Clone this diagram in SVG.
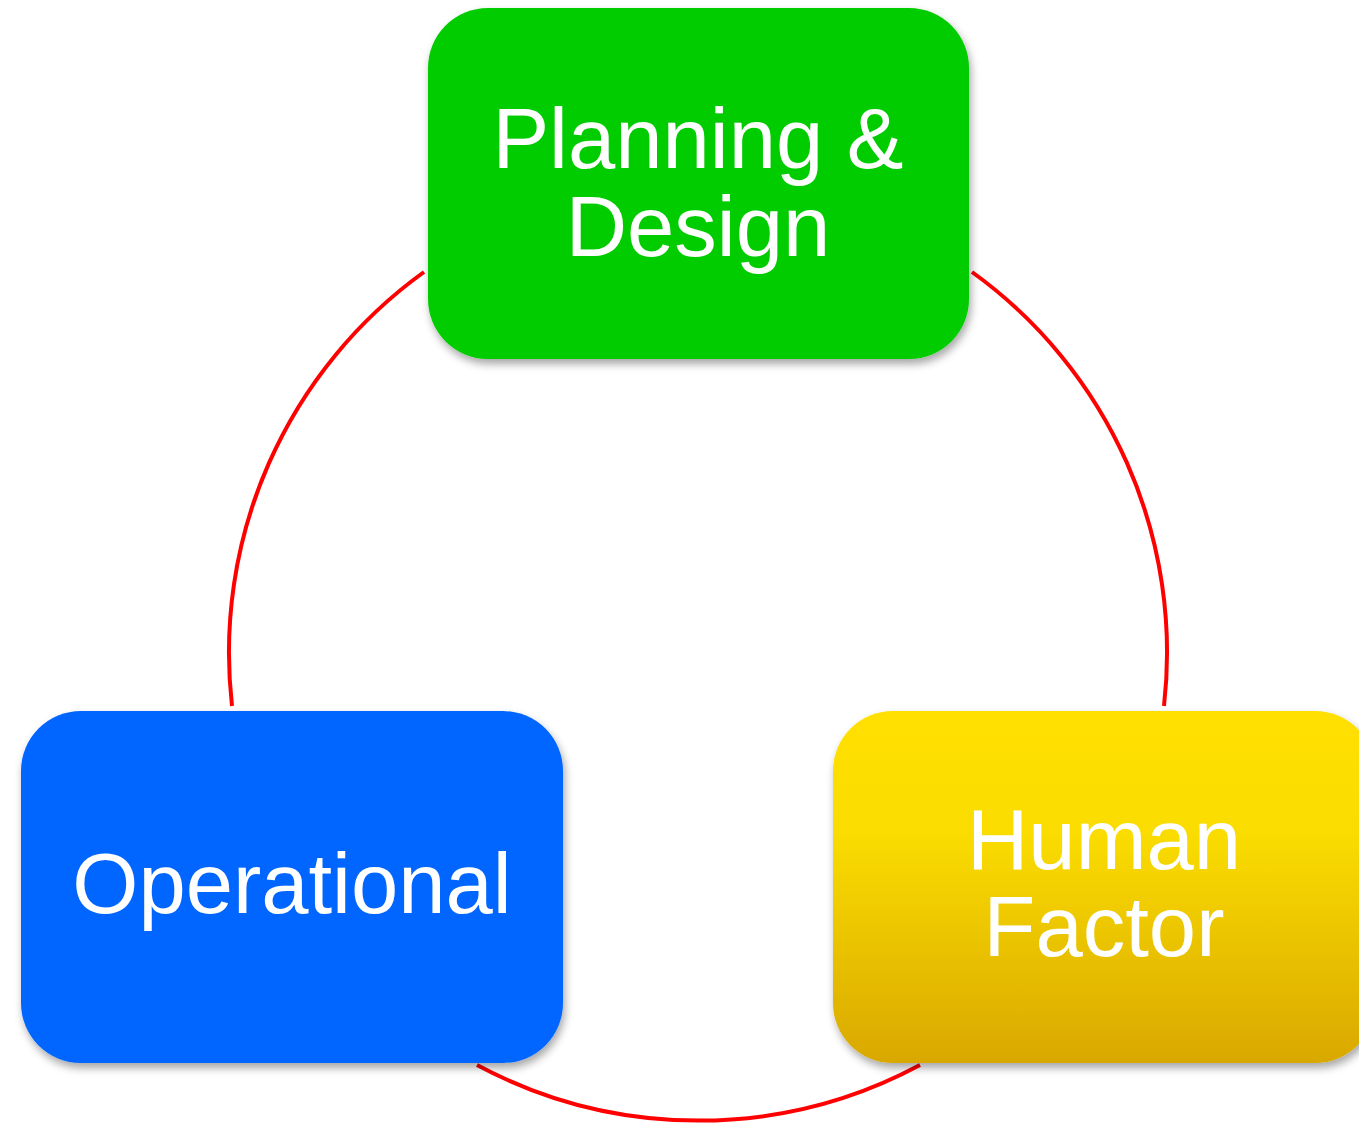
<svg xmlns="http://www.w3.org/2000/svg" width="1359" height="1123" viewBox="0 0 1359 1123">
  <defs>
    <style>
      .arc { fill: none; stroke: #FF0000; stroke-width: 4; }
      .box { filter: url(#shadow); }
      .label { font-family: "Liberation Sans", Arial, sans-serif; font-size: 85px; fill: #FFFFFF; text-anchor: middle; }
    </style>
    <filter id="shadow" x="-10%" y="-10%" width="125%" height="130%">
      <feDropShadow dx="2" dy="5" stdDeviation="4" flood-color="#000000" flood-opacity="0.35"/>
    </filter>
    <linearGradient id="gold" x1="0" y1="0" x2="0" y2="1">
      <stop offset="0" stop-color="#FFE000"/>
      <stop offset="0.35" stop-color="#FADC00"/>
      <stop offset="1" stop-color="#D9A800"/>
    </linearGradient>
  </defs>
  <rect width="1359" height="1123" fill="#FFFFFF"/>

  <!-- ring segments between the three boxes -->
  <g id="connectors">
    <path class="arc" d="M 424 272 A 469 469 0 0 0 232 706"/>
    <path class="arc" d="M 972 272 A 469 469 0 0 1 1164 706"/>
    <path class="arc" d="M 477 1065 A 469 469 0 0 0 920 1065"/>
  </g>

  <g id="planning-design">
    <rect class="box" x="428" y="8" width="541" height="351" rx="60" ry="60" fill="#00CC00"/>
    <text class="label" x="698" y="168">Planning &amp;</text>
    <text class="label" x="698" y="256">Design</text>
  </g>

  <g id="operational">
    <rect class="box" x="21" y="711" width="542" height="352" rx="60" ry="60" fill="#0066FF"/>
    <text class="label" x="292" y="913">Operational</text>
  </g>

  <g id="human-factor">
    <rect class="box" x="833" y="711" width="542" height="352" rx="60" ry="60" fill="url(#gold)"/>
    <text class="label" x="1104" y="869">Human</text>
    <text class="label" x="1104" y="956">Factor</text>
  </g>
</svg>
